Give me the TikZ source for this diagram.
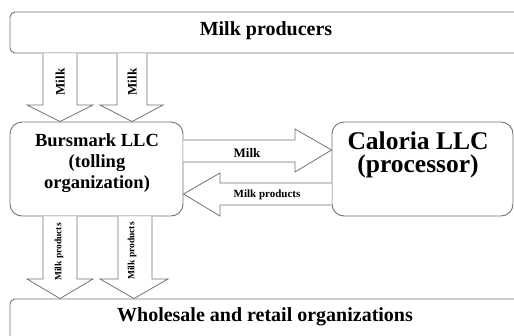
\documentclass[tikz,border=0pt]{standalone}
\usepackage{fontspec}
\setmainfont{Liberation Serif}
\begin{document}
\begin{tikzpicture}[x=1pt,y=-1pt,
  box/.style={draw=black!55, line width=0.9pt, fill=white, inner sep=0pt},
  boxtext/.style={inner sep=0pt, align=center},
  barrow/.style={draw=black!55, line width=0.8pt, fill=white, line join=miter},
  lbl/.style={inner sep=0pt}]
\useasboundingbox (0,0) rectangle (514,335);
\clip (0,0) rectangle (514,335);
\fill[white] (0,0) rectangle (514,335);
% boxes
\node[box, rounded corners=5pt, minimum width=512pt, minimum height=41pt] (prod) at (266,32.5) {};
\node[boxtext, font=\bfseries\fontsize{20}{22}\selectfont] (prodT) at (266,31) {Milk producers};
\node[box, rounded corners=12pt, minimum width=173pt, minimum height=94pt] (burs) at (96.5,169) {};
\node[boxtext, font=\bfseries\fontsize{18.5}{21}\selectfont] (bursT) at (97,163.5) {Bursmark LLC\\(tolling\\organization)};
\node[box, rounded corners=12pt, minimum width=181pt, minimum height=94pt] (calo) at (422.5,169) {};
\node[boxtext, font=\bfseries\fontsize{25.5}{23}\selectfont] (caloT) at (418,155) {Caloria LLC\\(processor)};
\node[box, rounded corners=5pt, minimum width=512pt, minimum height=42pt] (whole) at (266,320) {};
\node[boxtext, font=\bfseries\fontsize{20}{22}\selectfont] (wholeT) at (265,317) {Wholesale and retail organizations};
% arrows from producers to Bursmark
\draw[barrow] (43,0 |- prod.south) -- (43,105) -- (27,105) -- (60,0 |- burs.north) -- (93,105) -- (77,105) -- (77,0 |- prod.south);
\draw[barrow] (117,0 |- prod.south) -- (117,105) -- (100,105) -- (132,0 |- burs.north) -- (163,105) -- (147,105) -- (147,0 |- prod.south);
\node[lbl, rotate=90, font=\bfseries\fontsize{13}{13}\selectfont] (m1) at (60,82) {Milk};
\node[lbl, rotate=90, font=\bfseries\fontsize{13}{13}\selectfont] (m2) at (132,82) {Milk};
% Bursmark -> Caloria
\draw[barrow] (burs.east |- 0,140) -- (295,140) -- (295,129) -- (calo.west |- 0,150) -- (295,172) -- (295,162) -- (burs.east |- 0,162);
\node[lbl, font=\bfseries\fontsize{13}{13}\selectfont] (m3) at (247,153) {Milk};
% Caloria -> Bursmark
\draw[barrow] (calo.west |- 0,183) -- (220,183) -- (220,173) -- (burs.east |- 0,194) -- (220,216) -- (220,205) -- (calo.west |- 0,205);
\node[lbl, font=\bfseries\fontsize{11}{11}\selectfont] (m4) at (267,195) {Milk products};
% Bursmark -> wholesale
\draw[barrow] (43,0 |- burs.south) -- (43,279) -- (27,279) -- (60,0 |- whole.north) -- (93,279) -- (77,279) -- (77,0 |- burs.south);
\draw[barrow] (118,0 |- burs.south) -- (118,279) -- (100,279) -- (134,0 |- whole.north) -- (168,279) -- (152,279) -- (152,0 |- burs.south);
\node[lbl, rotate=90, font=\bfseries\fontsize{9.5}{9.5}\selectfont] (m5) at (59,252) {Milk products};
\node[lbl, rotate=90, font=\bfseries\fontsize{9.5}{9.5}\selectfont] (m6) at (132,251) {Milk products};
\end{tikzpicture}
\end{document}
